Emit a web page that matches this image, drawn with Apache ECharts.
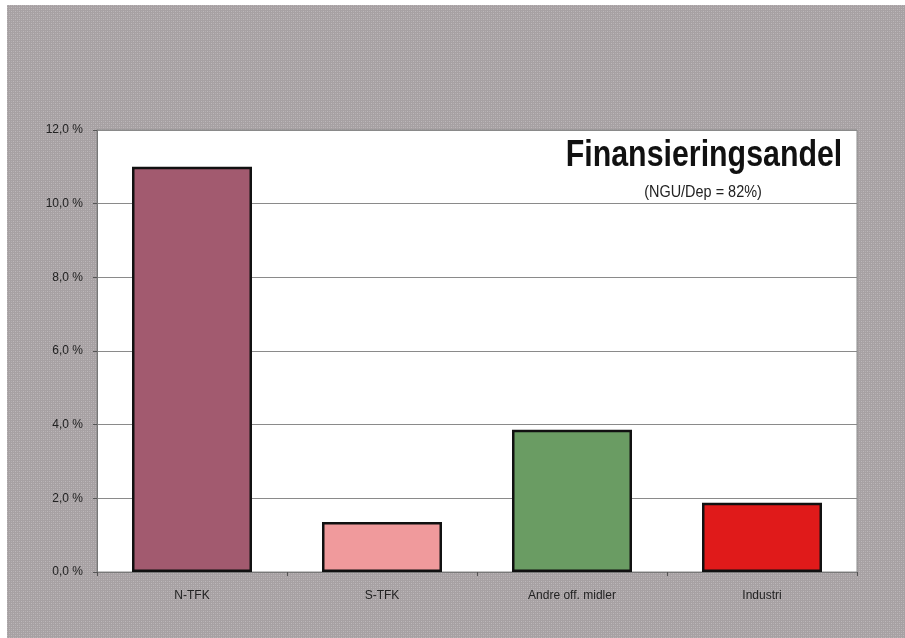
<!DOCTYPE html>
<html>
<head>
<meta charset="utf-8">
<script src="https://cdn.jsdelivr.net/npm/echarts@6/dist/echarts.min.js"></script>
<style>html,body{margin:0;padding:0;background:#fff;}#c{width:905px;height:638px;}</style>
</head>
<body>
<div id="c"></div>
<script>
var categories = ['N-TFK', 'S-TFK', 'Andre off. midler', 'Industri'];
var values = [11.0, 1.36, 3.86, 1.88];
var barColors = ['#a25a6f', '#f09a9c', '#6a9c63', '#e01a1a'];
var titleText = 'Finansieringsandel';
var subtitleText = '(NGU/Dep = 82%)';

// subtle speckled texture for the grey frame
var pc = document.createElement('canvas');
pc.width = 4; pc.height = 4;
var pctx = pc.getContext('2d');
pctx.fillStyle = '#a7a1a3'; pctx.fillRect(0, 0, 4, 4);
pctx.fillStyle = '#bdb8ba'; pctx.fillRect(1, 1, 1, 1); pctx.fillRect(3, 3, 1, 1);
pctx.fillStyle = '#b3aeb0'; pctx.fillRect(3, 1, 1, 1); pctx.fillRect(1, 3, 1, 1);

var chart = echarts.init(document.getElementById('c'));
chart.setOption({
  backgroundColor: '#ffffff',
  animation: false,
  grid: {left: 97, right: 48, top: 130, bottom: 66, show: true, backgroundColor: '#ffffff', borderColor: '#8a8a8a', borderWidth: 1},
  xAxis: {
    type: 'category', data: categories,
    axisLine: {lineStyle: {color: '#777', width: 1}},
    axisTick: {show: true, length: 4, lineStyle: {color: '#555'}},
    axisLabel: {color: '#222', fontFamily: 'Liberation Sans Narrow, Liberation Sans, Arial', fontSize: 12, margin: 18}
  },
  yAxis: {
    type: 'value', min: 0, max: 12, interval: 2,
    axisLine: {show: true, lineStyle: {color: '#777'}},
    axisTick: {show: true, length: 4, lineStyle: {color: '#555'}},
    splitLine: {lineStyle: {color: '#8a8a8a', width: 1}},
    axisLabel: {color: '#222', fontFamily: 'Liberation Sans Narrow, Liberation Sans, Arial', fontSize: 12, margin: 14,
      formatter: function (v) { return v.toFixed(1).replace('.', ',') + ' %'; }}
  },
  series: [{
    type: 'bar', data: values.map(function (v, i) {
      return {value: v, itemStyle: {color: barColors[i]}};
    }),
    barWidth: 120,
    itemStyle: {borderColor: '#111', borderWidth: 2.5}
  }],
  graphic: [
    {type: 'rect', z: -10, silent: true, shape: {x: 7, y: 5, width: 898, height: 633},
      style: {fill: {image: pc, repeat: 'repeat'}}},
    {type: 'text', x: 704, y: 156, scaleX: 0.82,
      style: {text: titleText, font: 'bold 37px Liberation Sans, Arial', fill: '#111', textAlign: 'center', textVerticalAlign: 'middle'}},
    {type: 'text', x: 703, y: 192, scaleX: 0.85,
      style: {text: subtitleText, font: '17px Liberation Sans, Arial', fill: '#222', textAlign: 'center', textVerticalAlign: 'middle'}}
  ]
});
</script>
</body>
</html>
